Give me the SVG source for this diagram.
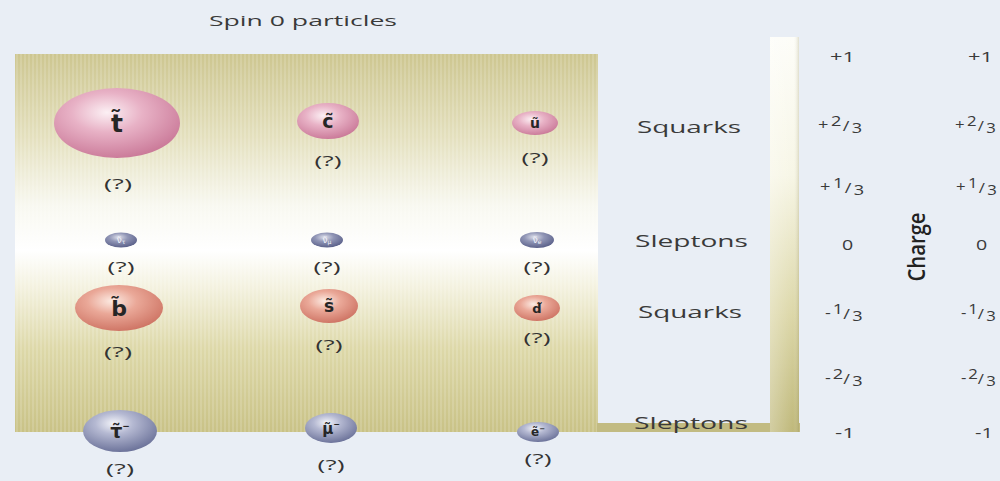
<svg xmlns="http://www.w3.org/2000/svg" width="1000" height="481" viewBox="0 0 1000 481">
<defs>
<linearGradient id="panelG" x1="0" y1="0" x2="0" y2="1">
<stop offset="0" stop-color="#cdc690"/>
<stop offset="0.22" stop-color="#e4e0be"/>
<stop offset="0.4" stop-color="#f8f8f0"/>
<stop offset="0.52" stop-color="#ffffff"/>
<stop offset="0.62" stop-color="#f3f1de"/>
<stop offset="0.78" stop-color="#ddd8a8"/>
<stop offset="1" stop-color="#c9c286"/>
</linearGradient>
<linearGradient id="barG" x1="0" y1="0" x2="0" y2="1">
<stop offset="0" stop-color="#fdfdf8"/>
<stop offset="0.35" stop-color="#f7f6e6"/>
<stop offset="0.7" stop-color="#dcd7a8"/>
<stop offset="1" stop-color="#bfb87a"/>
</linearGradient>
<linearGradient id="barEdge" x1="0" y1="0" x2="1" y2="0">
<stop offset="0" stop-color="#ffffff" stop-opacity="0.3"/>
<stop offset="0.8" stop-color="#ffffff" stop-opacity="0"/>
<stop offset="1" stop-color="#8a8450" stop-opacity="0.25"/>
</linearGradient>
<pattern id="stripes" width="4" height="10" patternUnits="userSpaceOnUse">
<rect x="0" y="0" width="2" height="10" fill="#ffffff" opacity="0.14"/>
</pattern>
<radialGradient id="pink" cx="0.42" cy="0.35" r="0.7">
<stop offset="0" stop-color="#fcf0f4"/>
<stop offset="0.4" stop-color="#e8b2c6"/>
<stop offset="1" stop-color="#c87595"/>
</radialGradient>
<radialGradient id="salmon" cx="0.42" cy="0.35" r="0.7">
<stop offset="0" stop-color="#fcebe3"/>
<stop offset="0.4" stop-color="#eaa898"/>
<stop offset="1" stop-color="#cc7060"/>
</radialGradient>
<radialGradient id="blue" cx="0.42" cy="0.32" r="0.72">
<stop offset="0" stop-color="#f4f5fa"/>
<stop offset="0.35" stop-color="#b5b9d2"/>
<stop offset="1" stop-color="#676e96"/>
</radialGradient>
<radialGradient id="nu" cx="0.42" cy="0.32" r="0.72">
<stop offset="0" stop-color="#dfe1ec"/>
<stop offset="0.4" stop-color="#9196b6"/>
<stop offset="1" stop-color="#565c86"/>
</radialGradient>
</defs>
<style>
text{font-family:"Open Sans","Noto Sans","DejaVu Sans",sans-serif;fill:#3a3a3a}
.lbl{font-size:16px}
.q{font-size:15px;text-anchor:middle;fill:#333}
.ch{font-size:14px}
.p{font-family:"DejaVu Sans",sans-serif;text-anchor:middle;fill:#262626;font-weight:bold}
.nuT{font-family:"DejaVu Sans",sans-serif;text-anchor:middle;fill:#f4f4fa;font-size:9px}
</style>
<rect x="0" y="0" width="1000" height="481" fill="#e9eef5"/>

<g id="title">
<text x="209" y="26" font-size="15" textLength="188" lengthAdjust="spacingAndGlyphs">Spin 0 particles</text>
</g>

<g id="panel">
<rect x="15" y="54" width="583" height="378" fill="url(#panelG)"/>
<rect x="15" y="54" width="583" height="378" fill="url(#stripes)"/>
<rect x="597" y="423" width="203" height="9" fill="#c2bb82"/>
<rect x="770" y="37" width="29" height="395" fill="url(#barG)"/>
<rect x="770" y="37" width="29" height="395" fill="url(#barEdge)"/>
</g>

<g id="node-stop">
<ellipse cx="117" cy="123" rx="63" ry="35" fill="url(#pink)"/>
<text class="p" x="117" y="132" font-size="25">t̃</text>
<text class="q" x="118" y="189" textLength="28" lengthAdjust="spacingAndGlyphs">(?)</text>
</g>
<g id="node-charm">
<ellipse cx="328" cy="121" rx="31" ry="18" fill="url(#pink)"/>
<text class="p" x="328" y="128" font-size="19">c̃</text>
<text class="q" x="328" y="166" textLength="27" lengthAdjust="spacingAndGlyphs">(?)</text>
</g>
<g id="node-up">
<ellipse cx="535" cy="123" rx="23" ry="12" fill="url(#pink)"/>
<text class="p" x="535" y="128" font-size="14">ũ</text>
<text class="q" x="535" y="163" textLength="27" lengthAdjust="spacingAndGlyphs">(?)</text>
</g>

<g id="node-nutau">
<ellipse cx="121" cy="240" rx="16" ry="7.5" fill="url(#nu)"/>
<text class="nuT" x="121" y="243">ν̃<tspan font-size="6" dy="1">τ</tspan></text>
<text class="q" x="121" y="272" textLength="27" lengthAdjust="spacingAndGlyphs">(?)</text>
</g>
<g id="node-numu">
<ellipse cx="327" cy="240" rx="16" ry="7.5" fill="url(#nu)"/>
<text class="nuT" x="327" y="243">ν̃<tspan font-size="6" dy="1">μ</tspan></text>
<text class="q" x="327" y="272" textLength="27" lengthAdjust="spacingAndGlyphs">(?)</text>
</g>
<g id="node-nue">
<ellipse cx="537" cy="240" rx="17" ry="8" fill="url(#nu)"/>
<text class="nuT" x="537" y="243">ν̃<tspan font-size="6" dy="1">e</tspan></text>
<text class="q" x="537" y="272" textLength="27" lengthAdjust="spacingAndGlyphs">(?)</text>
</g>

<g id="node-bottom">
<ellipse cx="119" cy="308" rx="44" ry="23" fill="url(#salmon)"/>
<text class="p" x="119" y="316" font-size="22">b̃</text>
<text class="q" x="118" y="357" textLength="28" lengthAdjust="spacingAndGlyphs">(?)</text>
</g>
<g id="node-strange">
<ellipse cx="329" cy="306" rx="29" ry="17" fill="url(#salmon)"/>
<text class="p" x="329" y="312" font-size="17">s̃</text>
<text class="q" x="329" y="350" textLength="27" lengthAdjust="spacingAndGlyphs">(?)</text>
</g>
<g id="node-down">
<ellipse cx="537" cy="308" rx="23" ry="13" fill="url(#salmon)"/>
<text class="p" x="537" y="313" font-size="13">d̃</text>
<text class="q" x="537" y="343" textLength="27" lengthAdjust="spacingAndGlyphs">(?)</text>
</g>

<g id="node-tau">
<ellipse cx="120" cy="431" rx="37" ry="21" fill="url(#blue)"/>
<text class="p" x="120" y="438" font-size="19">τ̃<tspan font-size="9" dy="-9">−</tspan></text>
<text class="q" x="120" y="474" textLength="28" lengthAdjust="spacingAndGlyphs">(?)</text>
</g>
<g id="node-muon">
<ellipse cx="331" cy="428" rx="26" ry="15" fill="url(#blue)"/>
<text class="p" x="331" y="434" font-size="15">μ̃<tspan font-size="8" dy="-7">−</tspan></text>
<text class="q" x="331" y="470" textLength="27" lengthAdjust="spacingAndGlyphs">(?)</text>
</g>
<g id="node-electron">
<ellipse cx="538" cy="432" rx="21" ry="10" fill="url(#blue)"/>
<text class="p" x="538" y="436" font-size="12">ẽ<tspan font-size="7" dy="-5">−</tspan></text>
<text class="q" x="538" y="464" textLength="27" lengthAdjust="spacingAndGlyphs">(?)</text>
</g>

<g id="row-labels">
<text class="lbl" x="637" y="133" textLength="104" lengthAdjust="spacingAndGlyphs">Squarks</text>
<text class="lbl" x="635" y="247" textLength="113" lengthAdjust="spacingAndGlyphs">Sleptons</text>
<text class="lbl" x="638" y="318" textLength="104" lengthAdjust="spacingAndGlyphs">Squarks</text>
<text class="lbl" x="634" y="429" textLength="114" lengthAdjust="spacingAndGlyphs">Sleptons</text>
</g>

<g id="charge-left">
<text class="ch" x="830" y="62" textLength="25" lengthAdjust="spacingAndGlyphs">+1</text>
<text class="ch" transform="translate(818,130) scale(1.3,1)">+<tspan x="10" y="-4" font-size="14">2</tspan><tspan x="19" y="1">/</tspan><tspan x="26" y="3" font-size="14">3</tspan></text>
<text class="ch" transform="translate(820,192) scale(1.3,1)">+<tspan x="10" y="-4" font-size="14">1</tspan><tspan x="19" y="1">/</tspan><tspan x="26" y="3" font-size="14">3</tspan></text>
<text class="ch" transform="translate(842,250) scale(1.4,1)" font-size="12">0</text>
<text class="ch" transform="translate(825,318) scale(1.3,1)">-<tspan x="6" y="-4" font-size="14">1</tspan><tspan x="14" y="1">/</tspan><tspan x="21" y="3" font-size="14">3</tspan></text>
<text class="ch" transform="translate(825,383) scale(1.3,1)">-<tspan x="6" y="-4" font-size="14">2</tspan><tspan x="14" y="1">/</tspan><tspan x="21" y="3" font-size="14">3</tspan></text>
<text class="ch" x="835" y="438" textLength="20" lengthAdjust="spacingAndGlyphs">-1</text>
</g>

<g id="charge-axis">
<text transform="translate(925,247) rotate(-90)" x="0" y="0" text-anchor="middle" font-size="24" font-weight="600" textLength="69" lengthAdjust="spacingAndGlyphs" style="fill:#222">Charge</text>
</g>

<g id="charge-right">
<text class="ch" x="968" y="62" textLength="25" lengthAdjust="spacingAndGlyphs">+1</text>
<text class="ch" transform="translate(955,130) scale(1.2,1)">+<tspan x="10" y="-4" font-size="14">2</tspan><tspan x="19" y="1">/</tspan><tspan x="26" y="3" font-size="14">3</tspan></text>
<text class="ch" transform="translate(956,192) scale(1.2,1)">+<tspan x="10" y="-4" font-size="14">1</tspan><tspan x="19" y="1">/</tspan><tspan x="26" y="3" font-size="14">3</tspan></text>
<text class="ch" transform="translate(976,250) scale(1.4,1)" font-size="12">0</text>
<text class="ch" transform="translate(961,318) scale(1.2,1)">-<tspan x="6" y="-4" font-size="14">1</tspan><tspan x="14" y="1">/</tspan><tspan x="21" y="3" font-size="14">3</tspan></text>
<text class="ch" transform="translate(961,383) scale(1.2,1)">-<tspan x="6" y="-4" font-size="14">2</tspan><tspan x="14" y="1">/</tspan><tspan x="21" y="3" font-size="14">3</tspan></text>
<text class="ch" x="975" y="438" textLength="18" lengthAdjust="spacingAndGlyphs">-1</text>
</g>
</svg>
